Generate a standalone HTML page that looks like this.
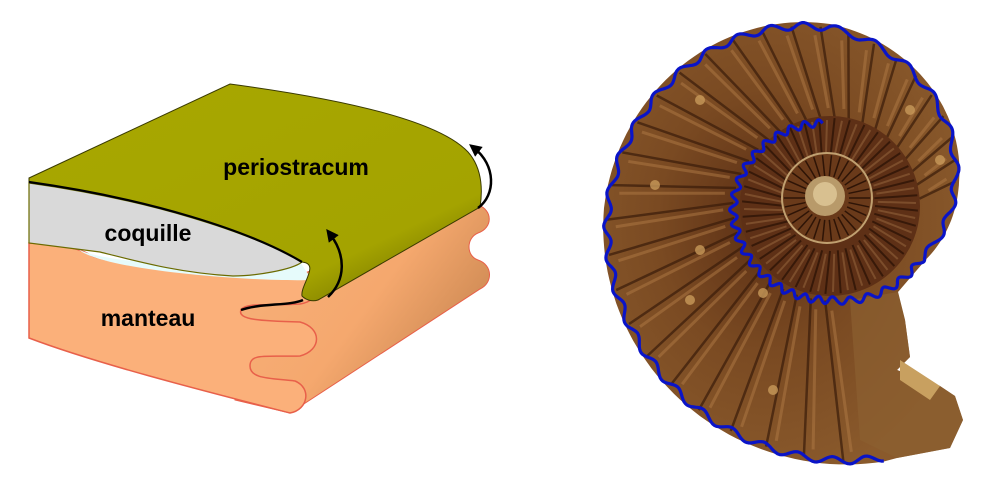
<!DOCTYPE html>
<html><head><meta charset="utf-8"><style>
html,body{margin:0;padding:0;background:#fff;}
svg{display:block}
text{font-family:"Liberation Sans",Arial,sans-serif;font-weight:bold;fill:#000}
</style></head><body>
<svg id="s" width="1000" height="488" viewBox="0 0 1000 488" xmlns="http://www.w3.org/2000/svg">
<defs>
<linearGradient id="gside" x1="0" y1="0" x2="1" y2="0.6">
<stop offset="0" stop-color="#f7b27c"/><stop offset="0.6" stop-color="#f5a86e"/><stop offset="1" stop-color="#c98650"/></linearGradient>
<linearGradient id="ggreen" x1="0" y1="0" x2="1" y2="1">
<stop offset="0" stop-color="#a8a800"/><stop offset="0.75" stop-color="#a4a300"/><stop offset="1" stop-color="#5e5c00"/></linearGradient>
<radialGradient id="gbrown" cx="0.45" cy="0.45" r="0.6">
<stop offset="0" stop-color="#5a2e14"/><stop offset="0.5" stop-color="#7a4a22"/><stop offset="1" stop-color="#8a5a2c"/></radialGradient>
<marker id="ah" viewBox="0 0 10 10" refX="5" refY="5" markerWidth="5" markerHeight="5" orient="auto"><path d="M0,0 L10,5 L0,10 Z" fill="#000"/></marker>
</defs>
<!-- mantle side -->
<path d="M300,275 L478,205 C493,210 493,228 478,233 C466,238 466,256 478,260 C493,265 493,283 480,289 L290,413 L235,400 L232,300 Z" fill="url(#gside)" stroke="#e8604a" stroke-width="1"/>
<!-- mantle front -->
<path d="M29,243 C60,245 80,248 90,255 C110,265 200,272 300,275 C322,282 322,300 300,304 C270,306 245,302 241,310 C237,320 262,321 300,322 C322,328 322,350 300,356 C265,357 250,353 250,366 C250,379 270,378 295,381 C312,388 308,410 290,413 C220,395 100,365 29,338 Z" fill="#fbb07a" stroke="#e8604a" stroke-width="1.5"/>
<path d="M241,310 C260,303 290,306 303,300" fill="none" stroke="#000" stroke-width="2.5"/>
<!-- cyan sliver -->
<path d="M78,249 C100,262 200,270 300,262 L312,280 C250,282 100,270 78,249 Z" fill="#e6fbfb"/>
<!-- green -->
<path d="M29,178 L230,84 C350,100 440,122 468,152 C484,170 482,195 480,207 L318,300 C312,302 306,300 302,296 C300,285 322,262 300,262 C250,240 150,200 29,183 Z" fill="url(#ggreen)" stroke="#3a3a00" stroke-width="1"/>
<!-- coquille -->
<path d="M29,183 C150,200 250,232 302,262 C292,270 255,276 233,276 C180,273 140,262 100,252 L29,243 Z" fill="#d9d9d9" stroke="#6b6b00" stroke-width="1.2"/>
<path d="M29,182 C150,199 250,231 302,262" fill="none" stroke="#000" stroke-width="2.2"/>
<!-- arrows -->
<path d="M328,297 C346,280 346,255 330,234" fill="none" stroke="#000" stroke-width="2.5" marker-end="url(#ah)"/>
<path d="M478,208 C496,195 496,165 474,148" fill="none" stroke="#000" stroke-width="2.5" marker-end="url(#ah)"/>
<text x="296" y="175" font-size="23" text-anchor="middle">periostracum</text>
<text x="148" y="241" font-size="23" text-anchor="middle">coquille</text>
<text x="148" y="326" font-size="23" text-anchor="middle">manteau</text>
<g id="amm"></g>
</svg>
<script>
(function(){
var NS="http://www.w3.org/2000/svg",g=document.getElementById('amm');
var cx=830,cy=208;
var keys=[[-95,85],[-180,97],[-270,92],[-332,105],[-372,128],[-450,180],[-540,222],[-630,252],[-645,256]];
function R(a){for(var i=0;i<keys.length-1;i++){var A=keys[i],B=keys[i+1];if(a<=A[0]&&a>=B[0]){var t=(a-A[0])/(B[0]-A[0]);return A[1]+t*(B[1]-A[1]);}}return keys[keys.length-1][1];}
function P(a,r){var t=a*Math.PI/180;return [cx+r*Math.cos(t),cy+r*Math.sin(t)];}
function el(n,at){var e=document.createElementNS(NS,n);for(var k in at)e.setAttribute(k,at[k]);g.appendChild(e);return e;}
var pts=[];for(var a=-332;a>=-642;a-=2){pts.push(P(a,R(a)+4));}
var tail=[[897,458],[950,448],[963,420],[955,396],[940,386],[897,370],[910,357],[905,320],[898,292]];
var d="M"+pts.map(function(p){return p[0].toFixed(1)+","+p[1].toFixed(1)}).join(" L")+" L"+tail.map(function(p){return p.join(",")}).join(" L")+" Z";
el('path',{d:d,fill:"url(#gbrown)"});
el('path',{d:"M898,292 L905,320 L910,357 L897,370 L940,386 L955,396 L963,420 L950,448 L897,458 L860,440 L850,300 Z",fill:"#8b6030",opacity:"0.7"});
el('path',{d:"M900,360 L940,386 L930,400 L900,380 Z",fill:"#c8a060"});
for(var a=-372;a>=-640;a-=9){var r1=R(a),r0=R(a+360)||100;if(a+360>-95)r0=85;var p0=P(a+6,Math.max(r0,90)),p1=P(a,r1);
el('line',{x1:p0[0],y1:p0[1],x2:p1[0],y2:p1[1],stroke:"#3a1c0a","stroke-width":"2.5",opacity:"0.7"});
var q0=P(a+2,Math.max(r0,90)+10),q1=P(a-2,r1-8);el('line',{x1:q0[0],y1:q0[1],x2:q1[0],y2:q1[1],stroke:"#b07a45","stroke-width":"3",opacity:"0.5"});}
el('circle',{cx:cx,cy:cy-2,r:90,fill:"#5e3016"});
for(var a=0;a<360;a+=10){var p0=P(a,45),p1=P(a+3,88);el('line',{x1:p0[0],y1:p0[1]-2,x2:p1[0],y2:p1[1]-2,stroke:"#2e1406","stroke-width":"2",opacity:"0.8"});
var q0=P(a+5,48),q1=P(a+8,86);el('line',{x1:q0[0],y1:q0[1]-2,x2:q1[0],y2:q1[1]-2,stroke:"#9a6a40","stroke-width":"2",opacity:"0.5"});}
el('circle',{cx:cx-3,cy:cy-10,r:45,fill:"#6a3a1a",stroke:"#c0a070","stroke-width":"2"});
for(var a=0;a<360;a+=12){var p0=P(a,22),p1=P(a,43);el('line',{x1:p0[0]-3,y1:p0[1]-10,x2:p1[0]-3,y2:p1[1]-10,stroke:"#2e1406","stroke-width":"1.5"});}
el('circle',{cx:cx-5,cy:cy-12,r:20,fill:"#b89a6a"});
el('circle',{cx:cx-5,cy:cy-14,r:12,fill:"#d8c090"});
[[655,185],[700,100],[690,300],[763,293],[773,390],[910,110],[940,160],[700,250]].forEach(function(p){el('circle',{cx:p[0],cy:p[1],r:5,fill:"#c89a5a",opacity:"0.8"});});
var s="",L=0,prev=null;
for(var a=-95;a>=-642;a-=0.5){var r=R(a);var p=P(a,r);if(prev){L+=Math.hypot(p[0]-prev[0],p[1]-prev[1]);}prev=p;
var wl=14+(r-85)/170*12;
var q=P(a,r+3.5*Math.sin(L*2*Math.PI/wl));s+=(s?" L":"M")+q[0].toFixed(1)+","+q[1].toFixed(1);}
el('path',{d:s,fill:"none",stroke:"#0a14c8","stroke-width":"3.2","stroke-linejoin":"round"});
})();
</script>
</body></html>
